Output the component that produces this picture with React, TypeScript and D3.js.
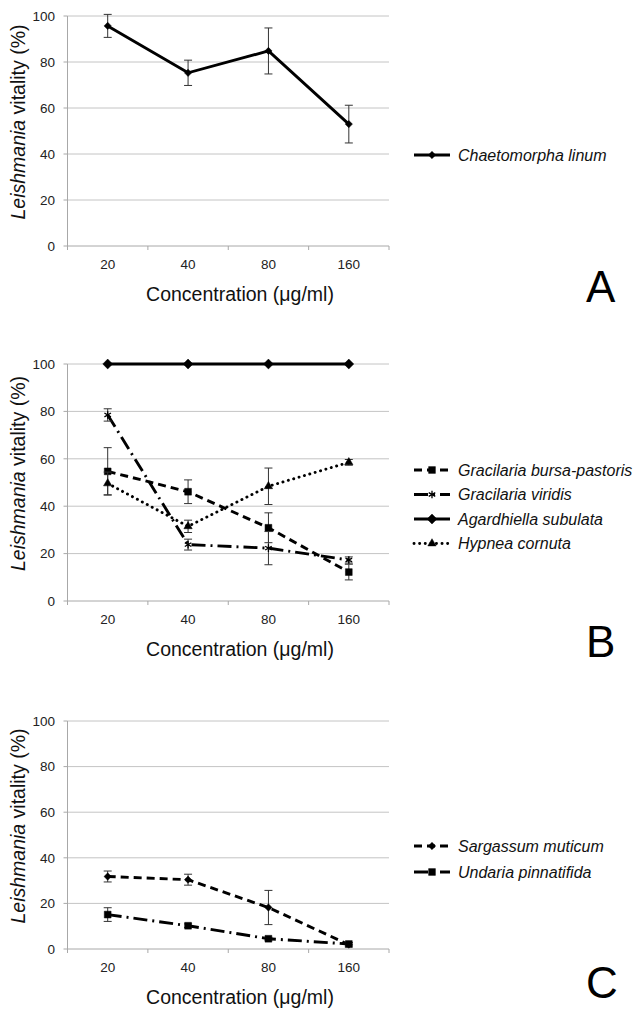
import React from "react";
import {
    scaleBand,
    scaleLinear,
    line,
    symbol,
    symbolDiamond2,
    symbolSquare,
    symbolTriangle,
    symbolAsterisk,
} from "d3";

// --- data ---
const concentrations = ["20", "40", "80", "160"];
const yTicks = [0, 20, 40, 60, 80, 100];

const chaetomorphaMean = [95.7, 75.3, 84.8, 53.0];
const chaetomorphaErr = [5.0, 5.5, 10.0, 8.2];

const bursaPastorisMean = [54.7, 46.1, 30.9, 12.2];
const bursaPastorisErr = [10.0, 5.0, 6.3, 3.3];
const viridisMean = [78.5, 23.8, 22.3, 17.3];
const viridisErr = [2.6, 2.3, 7.0, 1.3];
const agardhiellaMean = [100, 100, 100, 100];
const agardhiellaErr = [0, 0, 0, 0];
const hypneaMean = [49.6, 31.5, 48.4, 58.5];
const hypneaErr = [4.8, 2.6, 7.7, 1.2];

const sargassumMean = [31.8, 30.4, 18.2, 1.9];
const sargassumErr = [2.4, 2.4, 7.5, 1.0];
const undariaMean = [15.1, 10.2, 4.5, 2.2];
const undariaErr = [3.0, 0.8, 0.6, 0.5];

type Marker = "diamond" | "bigDiamond" | "square" | "triangle" | "asterisk";

type Series = {
    label: string;
    mean: number[];
    err: number[];
    dash: string;
    marker: Marker;
};

const panelA: Series[] = [
    { label: "Chaetomorpha linum", mean: chaetomorphaMean, err: chaetomorphaErr, dash: "", marker: "diamond" },
];
const panelB: Series[] = [
    { label: "Gracilaria bursa-pastoris", mean: bursaPastorisMean, err: bursaPastorisErr, dash: "8,5", marker: "square" },
    { label: "Gracilaria viridis", mean: viridisMean, err: viridisErr, dash: "14,5,2,5", marker: "asterisk" },
    { label: "Agardhiella subulata", mean: agardhiellaMean, err: agardhiellaErr, dash: "", marker: "bigDiamond" },
    { label: "Hypnea cornuta", mean: hypneaMean, err: hypneaErr, dash: "0.1,5.5", marker: "triangle" },
];
const panelC: Series[] = [
    { label: "Sargassum muticum", mean: sargassumMean, err: sargassumErr, dash: "8,5", marker: "diamond" },
    { label: "Undaria pinnatifida", mean: undariaMean, err: undariaErr, dash: "14,5,2,5", marker: "square" },
];

const FONT = "'Liberation Sans', Arial, sans-serif";
const PLOT_LEFT = 67.5;
const PLOT_RIGHT = 389;

function markerPath(m: Marker) {
    switch (m) {
        case "diamond":
            return symbol(symbolDiamond2, 34)() ?? "";
        case "bigDiamond":
            return symbol(symbolDiamond2, 62)() ?? "";
        case "square":
            return symbol(symbolSquare, 46)() ?? "";
        case "triangle":
            return symbol(symbolTriangle, 30)() ?? "";
        case "asterisk":
            return symbol(symbolAsterisk, 40)() ?? "";
    }
}

function MarkerShape({ m, x, y }: { m: Marker; x: number; y: number }) {
    const d = markerPath(m);
    const stroked = m === "asterisk";
    return (
        <path
            d={d}
            transform={`translate(${x},${y})`}
            fill={stroked ? "none" : "#000"}
            stroke="#000"
            strokeWidth={stroked ? 1.3 : 0.5}
        />
    );
}

type PanelProps = {
    top: number;
    bottom: number;
    series: Series[];
    legendY: number[];
    letter: string;
    letterY: number;
};

function Panel({ top, bottom, series, legendY, letter, letterY }: PanelProps) {
    const x = scaleBand<string>().domain(concentrations).range([PLOT_LEFT, PLOT_RIGHT]).padding(0);
    const y = scaleLinear().domain([0, 100]).range([bottom, top]);
    const cx = (c: string) => (x(c) ?? 0) + x.bandwidth() / 2;
    const boundaries = [...concentrations.map((c) => x(c) ?? 0), PLOT_RIGHT];
    const mid = (top + bottom) / 2;

    const path = line<number>()
        .x((_, i) => cx(concentrations[i]))
        .y((d) => y(d));

    return (
        <g fontFamily={FONT}>
            {/* gridlines */}
            {yTicks.map((t) => (
                <g key={t}>
                    {t > 0 && (
                        <line x1={PLOT_LEFT} x2={PLOT_RIGHT} y1={y(t)} y2={y(t)} stroke="#c4c4c4" strokeWidth={1} />
                    )}
                    <line x1={PLOT_LEFT - 4} x2={PLOT_LEFT} y1={y(t)} y2={y(t)} stroke="#a8a8a8" strokeWidth={1} />
                    <text x={55} y={y(t)} dy="0.35em" textAnchor="end" fontSize={13.5} fill="#222">
                        {t}
                    </text>
                </g>
            ))}
            {/* axes */}
            <line x1={PLOT_LEFT} x2={PLOT_LEFT} y1={top} y2={bottom} stroke="#a8a8a8" strokeWidth={1} />
            <line x1={PLOT_LEFT} x2={PLOT_RIGHT} y1={bottom} y2={bottom} stroke="#a8a8a8" strokeWidth={1} />
            {boundaries.map((b, i) => (
                <line key={i} x1={b} x2={b} y1={bottom} y2={bottom + 4} stroke="#a8a8a8" strokeWidth={1} />
            ))}
            {concentrations.map((c) => (
                <text key={c} x={cx(c)} y={bottom + 23} textAnchor="middle" fontSize={13.5} fill="#222">
                    {c}
                </text>
            ))}

            {/* axis titles */}
            <text x={240} y={bottom + 55} textAnchor="middle" fontSize={19.5} fill="#111">
                Concentration (μg/ml)
            </text>
            <text
                transform={`translate(25,${mid - 9}) rotate(-90)`}
                textAnchor="middle"
                fontSize={19.5}
                fill="#111"
            >
                <tspan fontStyle="italic">Leishmania</tspan> vitality (%)
            </text>

            {/* series */}
            {series.map((s, si) => (
                <g key={si}>
                    <path
                        d={path(s.mean) ?? ""}
                        fill="none"
                        stroke="#000"
                        strokeWidth={2.9}
                        strokeDasharray={s.dash || undefined}
                        strokeLinecap={s.dash.startsWith("0.1") ? "round" : "butt"}
                    />
                    {s.mean.map((v, i) =>
                        s.err[i] > 0 ? (
                            <g key={i} stroke="#333" strokeWidth={1}>
                                <line x1={cx(concentrations[i])} x2={cx(concentrations[i])} y1={y(v + s.err[i])} y2={y(v - s.err[i])} />
                                <line x1={cx(concentrations[i]) - 4} x2={cx(concentrations[i]) + 4} y1={y(v + s.err[i])} y2={y(v + s.err[i])} />
                                <line x1={cx(concentrations[i]) - 4} x2={cx(concentrations[i]) + 4} y1={y(v - s.err[i])} y2={y(v - s.err[i])} />
                            </g>
                        ) : null,
                    )}
                    {s.mean.map((v, i) => (
                        <MarkerShape key={i} m={s.marker} x={cx(concentrations[i])} y={y(v)} />
                    ))}
                </g>
            ))}

            {/* legend */}
            {series.map((s, si) => (
                <g key={si} transform={`translate(0,${legendY[si]})`}>
                    <line
                        x1={414}
                        x2={450}
                        y1={0}
                        y2={0}
                        stroke="#000"
                        strokeWidth={2.9}
                        strokeDasharray={s.dash || undefined}
                        strokeLinecap={s.dash.startsWith("0.1") ? "round" : "butt"}
                    />
                    <MarkerShape m={s.marker} x={432} y={0} />
                    <text x={458} y={0} dy="0.35em" fontSize={16} fontStyle="italic" fill="#111">
                        {s.label}
                    </text>
                </g>
            ))}

            {/* panel letter */}
            <text x={586} y={letterY} fontSize={44} fill="#000">
                {letter}
            </text>
        </g>
    );
}

export default function App() {
    return (
        <svg
            width={633}
            height={1009}
            style={{ position: "absolute", left: 0, top: 0, background: "#fff" }}
        >
            <rect width={633} height={1009} fill="#fff" />
            <Panel top={16} bottom={246} series={panelA} legendY={[155]} letter="A" letterY={302} />
            <Panel top={364} bottom={601} series={panelB} legendY={[470, 494.5, 519, 543.5]} letter="B" letterY={657} />
            <Panel top={721} bottom={949} series={panelC} legendY={[846, 872]} letter="C" letterY={998} />
        </svg>
    );
}
